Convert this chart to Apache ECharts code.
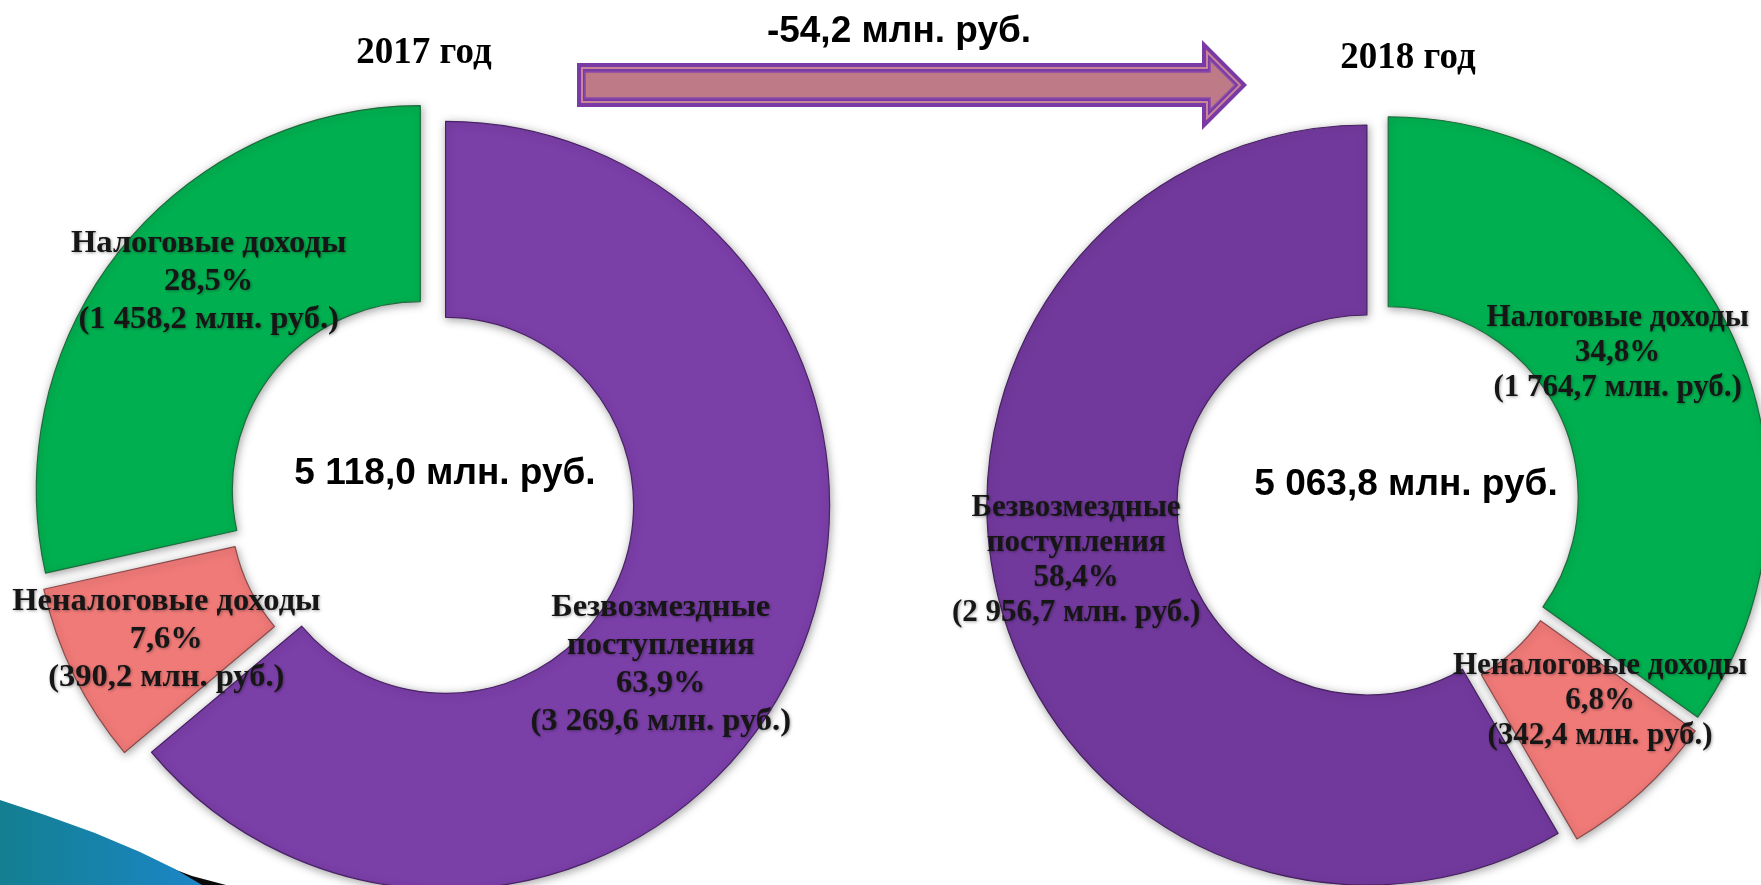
<!DOCTYPE html>
<html lang="ru">
<head>
<meta charset="utf-8">
<script src="https://cdn.jsdelivr.net/npm/echarts@6/dist/echarts.min.js"></script>
<style>
  html, body { margin: 0; padding: 0; background: #ffffff; }
  #chart { width: 1761px; height: 885px; }
</style>
</head>
<body>
<div id="chart"></div>
<script>
// ---- data ----
const years = ['2017 год', '2018 год'];
const categories2017 = ['Безвозмездные\nпоступления', 'Неналоговые доходы', 'Налоговые доходы'];
const values2017 = [3269.6, 390.2, 1458.2];
const categories2018 = ['Налоговые доходы', 'Неналоговые доходы', 'Безвозмездные\nпоступления'];
const values2018 = [1764.7, 342.4, 2956.7];
const unit = 'млн. руб.';

// ---- styles / layout ----
const GREEN = '#00b050', RED = '#f07a78';
const colors2017 = ['#7b3fa8', RED, GREEN];
const colors2018 = [GREEN, RED, '#72399d'];
const borders = { '#00b050': '#1f6b3c', '#f07a78': '#8c4b4b', '#7b3fa8': '#4a2268', '#72399d': '#45205f' };
const labelPos2017 = [[658, 663], [169, 638], [211, 283]];
const labelPos2018 = [[1615, 354], [1598, 699], [1079, 560]];

function fmtNum(v) {
  const s = Math.abs(v).toFixed(1).split('.');
  const intPart = s[0].replace(/\B(?=(\d{3})+(?!\d))/g, ' ');
  return (v < 0 ? '-' : '') + intPart + ',' + s[1];
}
function sum(a) { return a.reduce((x, y) => x + y, 0); }
const total2017 = sum(values2017), total2018 = sum(values2018);

const chart = echarts.init(document.getElementById('chart'), null, { renderer: 'canvas' });

function makePie(cats, vals, colors, center, radius, offset, labelPos, fontSize, lineHeight) {
  const total = sum(vals);
  const shiftY = [];
  let acc = 0;
  const data = vals.map(function (v, i) {
    // default 'inside' anchor of the slice label; move it to the wanted spot
    const mid = (acc + v / 2) / total * 2 * Math.PI;
    acc += v;
    const dirx = Math.sin(mid), diry = -Math.cos(mid);
    const rl = offset + (radius[0] + radius[1]) / 2;
    const sx = labelPos[i][0] - (center[0] + rl * dirx);
    const sy = labelPos[i][1] - (center[1] + rl * diry);
    shiftY.push(sy);
    return {
      name: cats[i],
      value: v,
      selected: true,
      label: {
        padding: [0, Math.max(0, -2 * sx), 0, Math.max(0, 2 * sx)],
        rich: { sp: { fontSize: 1, lineHeight: Math.max(1, 2 * Math.abs(sy)) } }
      },
      itemStyle: {
        color: colors[i],
        borderColor: borders[colors[i]],
        borderWidth: 1.2,
        shadowBlur: 8,
        shadowColor: 'rgba(0,0,0,0.35)',
        shadowOffsetX: 1,
        shadowOffsetY: 2
      }
    };
  });
  return {
    type: 'pie',
    center: center,
    radius: radius,
    startAngle: 90,
    clockwise: true,
    selectedMode: 'multiple',
    selectedOffset: offset,
    avoidLabelOverlap: false,
    animation: false,
    emphasis: { disabled: true },
    labelLine: { show: false },
    label: {
      show: true,
      position: 'inside',
      fontFamily: '"Liberation Serif", "DejaVu Serif", serif',
      fontWeight: 'bold',
      fontSize: fontSize,
      lineHeight: lineHeight,
      color: '#161616',
      textShadowColor: 'rgba(0,0,0,0.35)',
      textShadowBlur: 3,
      textShadowOffsetX: 1,
      textShadowOffsetY: 1,
      formatter: function (p) {
        const pct = (p.value / total * 100).toFixed(1).replace('.', ',');
        let body = p.name + '\n' + pct + '%\n(' + fmtNum(p.value) + ' ' + unit + ')';
        const sy = shiftY[p.dataIndex];
        if (sy > 0.5) body = '{sp| }\n' + body;
        else if (sy < -0.5) body = body + '\n{sp| }';
        return body;
      }
    },
    data: data
  };
}

const PURPLE_A = '#7a3aa6', MAUVE = '#bf7a88';
const SANS = '"Liberation Sans", Arial, sans-serif', SERIF = '"Liberation Serif", serif';
const option = {
  backgroundColor: '#ffffff',
  animation: false,
  series: [
    makePie(categories2017, values2017, colors2017, [432, 499], [188, 384], 15, labelPos2017, 32.5, 38),
    makePie(categories2018, values2018, colors2018, [1378, 502], [190, 380], 11.5, labelPos2018, 31, 35)
  ],
  graphic: [
    // bottom-left decorative swoosh
    { type: 'polygon', z: 1, shape: { points: [[0, 808], [55, 826], [110, 845], [155, 862], [192, 876], [226, 885], [0, 885]] },
      style: { fill: '#0a0a0a' } },
    { type: 'polygon', z: 2, shape: { points: [[0, 800], [45, 815], [95, 833], [140, 852], [175, 869], [202, 885], [0, 885]] },
      style: { fill: new echarts.graphic.LinearGradient(0, 0, 1, 0, [
        { offset: 0, color: '#137f90' }, { offset: 1, color: '#1b86c6' }]) } },
    // arrow
    { type: 'polygon', z: 5, shape: { points: [[577, 63], [1202, 63], [1202, 40], [1247, 85], [1202, 130], [1202, 107], [577, 107]] },
      style: { fill: PURPLE_A } },
    { type: 'polygon', z: 6, shape: { points: [[582, 68], [1207, 68], [1207, 52], [1240, 85], [1207, 118], [1207, 102], [582, 102]] },
      style: { fill: 'none', stroke: '#c98596', lineWidth: 2 } },
    { type: 'polygon', z: 7, shape: { points: [[585, 72], [1210, 72], [1210, 60], [1235, 85], [1210, 110], [1210, 98], [585, 98]] },
      style: { fill: MAUVE, stroke: '#8a4aa8', lineWidth: 1.5 } },
    // titles
    { type: 'text', z: 10, style: { text: years[0], x: 424, y: 53, align: 'center', verticalAlign: 'middle',
      fontFamily: SERIF, fontWeight: 'bold', fontSize: 37, fill: '#000' } },
    { type: 'text', z: 10, style: { text: years[1], x: 1408, y: 58, align: 'center', verticalAlign: 'middle',
      fontFamily: SERIF, fontWeight: 'bold', fontSize: 37, fill: '#000' } },
    { type: 'text', z: 10, style: { text: fmtNum(total2018 - total2017) + ' ' + unit, x: 899, y: 32, align: 'center', verticalAlign: 'middle',
      fontFamily: SANS, fontWeight: 'bold', fontSize: 37, fill: '#000' } },
    // totals in centers
    { type: 'text', z: 10, style: { text: fmtNum(total2017) + ' ' + unit, x: 445, y: 474, align: 'center', verticalAlign: 'middle',
      fontFamily: SANS, fontWeight: 'bold', fontSize: 37, fill: '#000' } },
    { type: 'text', z: 10, style: { text: fmtNum(total2018) + ' ' + unit, x: 1406, y: 485, align: 'center', verticalAlign: 'middle',
      fontFamily: SANS, fontWeight: 'bold', fontSize: 37, fill: '#000' } }
  ]
};
chart.setOption(option);
</script>
</body>
</html>
